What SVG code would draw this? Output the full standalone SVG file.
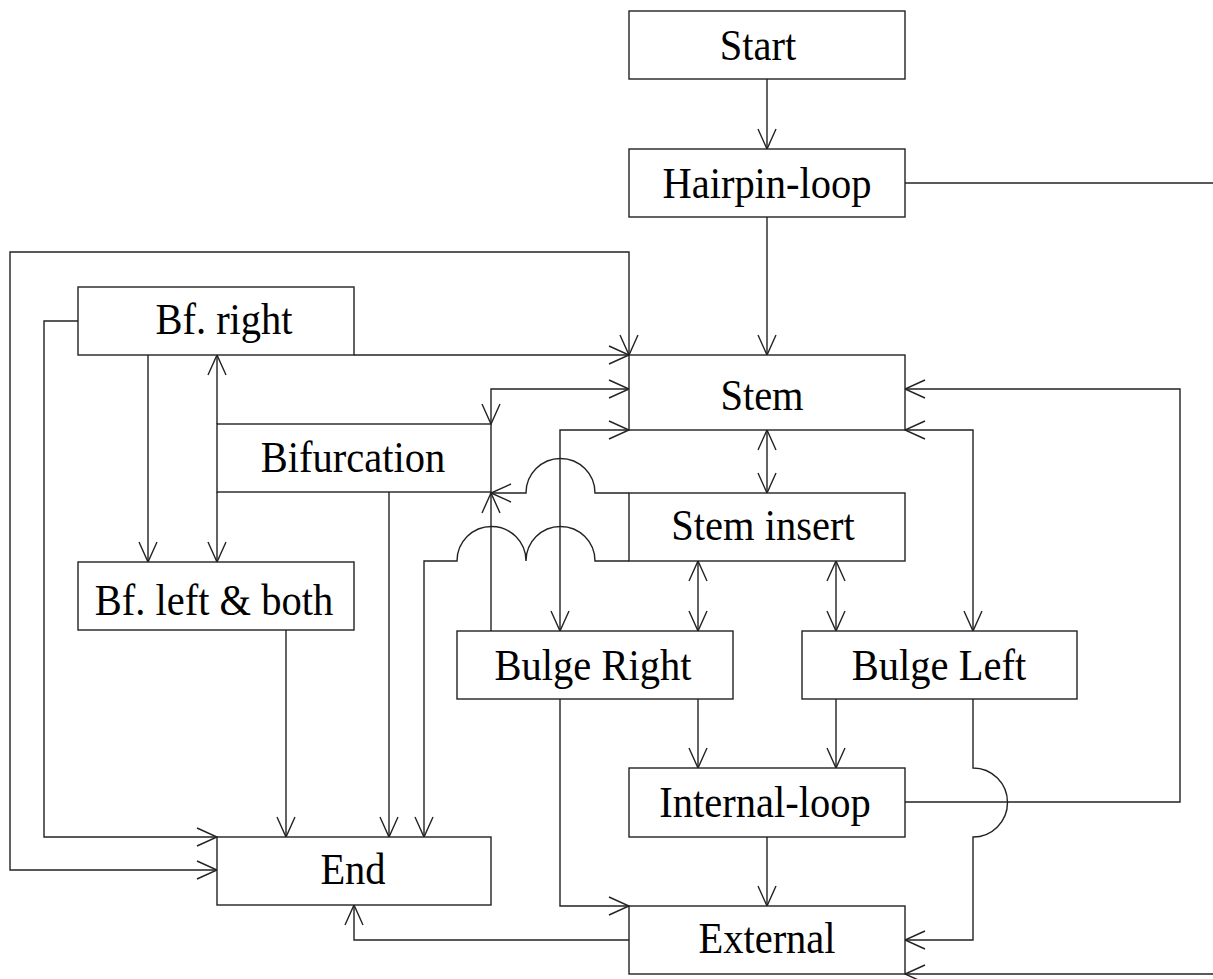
<svg xmlns="http://www.w3.org/2000/svg" width="1213" height="979" viewBox="0 0 1213 979">
<style>
  .box{fill:#fff;stroke:#222;stroke-width:1.4}
  .lbl{font-family:"Liberation Serif","Times New Roman",serif;font-size:40.5px;fill:#000;text-anchor:middle}
  .c{fill:none;stroke:#222;stroke-width:1.4}
  .a{marker-end:url(#ah)}
  .b{marker-start:url(#ahs);marker-end:url(#ah)}
</style>
<defs>
  <marker id="ah" markerUnits="userSpaceOnUse" markerWidth="24" markerHeight="22" refX="20" refY="9" orient="auto" overflow="visible">
    <path d="M0,0 L20,9 L0,18" fill="none" stroke="#222" stroke-width="1.4"/>
  </marker>
  <marker id="ahs" markerUnits="userSpaceOnUse" markerWidth="24" markerHeight="22" refX="20" refY="9" orient="auto-start-reverse" overflow="visible">
    <path d="M0,0 L20,9 L0,18" fill="none" stroke="#222" stroke-width="1.4"/>
  </marker>
</defs>
<rect width="1213" height="979" fill="#fff"/>
<g id="connectors">
  <path class="c a" d="M767,79 V149"/>
  <path class="c a" d="M767,217 V355"/>
  <path class="c" d="M905,183 H1220"/>
  <path class="c b" d="M217,870 H10 V252 H629 V355"/>
  <path class="c a" d="M354,355 H629"/>
  <path class="c a" d="M78,321 H44 V837 H217"/>
  <path class="c a" d="M148,355 V562"/>
  <path class="c a" d="M217,424 V355"/>
  <path class="c a" d="M217,492 V562"/>
  <path class="c a" d="M286,630 V837"/>
  <path class="c a" d="M389,492 V837"/>
  <path class="c a" d="M629,561 H595 A34.5,34.5 0 0 0 526,561 A34.5,34.5 0 0 0 457,561 H424 V837"/>
  <path class="c a" d="M629,493 H595 A34.5,34.5 0 0 0 526,493 H491"/>
  <path class="c a" d="M491,631 V493"/>
  <path class="c b" d="M629,389 H491 V424"/>
  <path class="c b" d="M629,430 H560 V631"/>
  <path class="c a" d="M560,699 V906 H629"/>
  <path class="c b" d="M767,430 V493"/>
  <path class="c b" d="M698,561 V631"/>
  <path class="c b" d="M836,561 V631"/>
  <path class="c b" d="M905,430 H973 V631"/>
  <path class="c a" d="M698,699 V768"/>
  <path class="c a" d="M836,699 V768"/>
  <path class="c a" d="M905,802 H1180 V389 H905"/>
  <path class="c a" d="M973,699 V768 A34.5,34.5 0 0 1 973,837 V940 H905"/>
  <path class="c a" d="M767,837 V906"/>
  <path class="c a" d="M629,940 H354 V905"/>
  <path class="c a" d="M1220,974 H905"/>
</g>
<g id="start"><rect class="box" x="629" y="11" width="276" height="68"/><text class="lbl" transform="translate(758,60) scale(1,1.1)">Start</text></g>
<g id="hairpin"><rect class="box" x="629" y="149" width="276" height="68"/><text class="lbl" transform="translate(767,198) scale(1,1.1)">Hairpin-loop</text></g>
<g id="stem"><rect class="box" x="629" y="355" width="276" height="75"/><text class="lbl" transform="translate(762,410) scale(1,1.1)">Stem</text></g>
<g id="bfright"><rect class="box" x="78" y="287" width="276" height="68"/><text class="lbl" transform="translate(224,334) scale(1,1.1)">Bf. right</text></g>
<g id="bifurcation"><rect class="box" x="217" y="424" width="274" height="68"/><text class="lbl" transform="translate(353,472) scale(1,1.1)">Bifurcation</text></g>
<g id="steminsert"><rect class="box" x="629" y="493" width="276" height="68"/><text class="lbl" transform="translate(763,540) scale(1,1.1)">Stem insert</text></g>
<g id="bfleft"><rect class="box" x="78" y="562" width="276" height="68"/><text class="lbl" transform="translate(214,615) scale(1,1.1)">Bf. left &amp; both</text></g>
<g id="bulgeright"><rect class="box" x="457" y="631" width="276" height="68"/><text class="lbl" transform="translate(593,680) scale(1,1.1)">Bulge Right</text></g>
<g id="bulgeleft"><rect class="box" x="802" y="631" width="275" height="68"/><text class="lbl" transform="translate(939,680) scale(1,1.1)">Bulge Left</text></g>
<g id="internal"><rect class="box" x="629" y="768" width="276" height="69"/><text class="lbl" transform="translate(765,817) scale(1,1.1)">Internal-loop</text></g>
<g id="end"><rect class="box" x="217" y="837" width="274" height="68"/><text class="lbl" transform="translate(353,884) scale(1,1.1)">End</text></g>
<g id="external"><rect class="box" x="629" y="906" width="276" height="68"/><text class="lbl" transform="translate(767,953) scale(1,1.1)">External</text></g>
</svg>
